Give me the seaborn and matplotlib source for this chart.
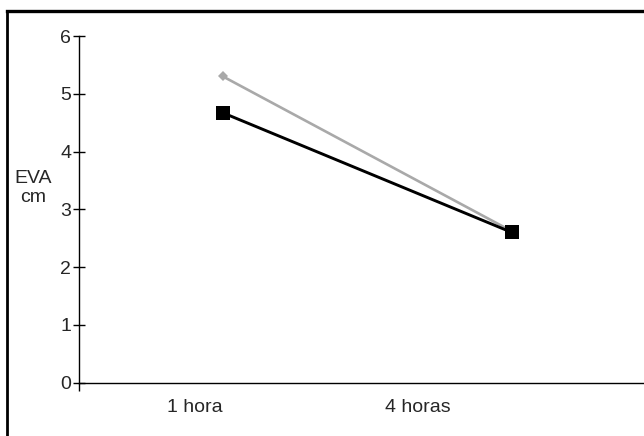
import numpy as np
import pandas as pd
import matplotlib
matplotlib.use("Agg")
import matplotlib.pyplot as plt
from matplotlib.lines import Line2D
import seaborn as sns

# ---- data ----
categories = ["1 hora", "4 horas"]
series_gray = [5.30, 2.62]
series_black = [4.67, 2.60]
y_ticks = [0, 1, 2, 3, 4, 5, 6]
y_label = "EVA\ncm"

sns.set_theme(style="white")
plt.rcParams['font.family'] = ['Liberation Sans', 'DejaVu Sans']

pos = np.arange(len(categories))
df = pd.DataFrame({
    "pos": np.concatenate([pos, pos]),
    "value": series_gray + series_black,
    "serie": ["gris"] * len(pos) + ["negro"] * len(pos),
})

fig = plt.figure(figsize=(6.44, 4.36), dpi=100)
ax = fig.add_axes([79 / 644, 53.3 / 436, 1 - 79 / 644, (400 - 53.3) / 436])

sns.lineplot(data=df[df.serie == "gris"], x="pos", y="value", ax=ax,
             color="#a9a9a9", lw=1.9, marker="D", markersize=5,
             markeredgewidth=0, zorder=2)
sns.lineplot(data=df[df.serie == "negro"], x="pos", y="value", ax=ax,
             color="black", lw=2.1, marker="s", markersize=9.8,
             markeredgewidth=0, zorder=3)

ax.set_ylim(0, 6)
x_left, x_right = -0.498, 1.457
ax.set_xlim(x_left, x_right)

for s in ["top", "right"]:
    ax.spines[s].set_visible(False)
for s in ["left", "bottom"]:
    ax.spines[s].set_color("black")
    ax.spines[s].set_linewidth(1.0)

ax.set_yticks(y_ticks)
ax.set_yticklabels([str(t) for t in y_ticks])
ax.tick_params(axis="y", direction="inout", length=9, width=1.0,
               color="black", labelsize=14, pad=1, left=True)

# x: one short tick at the origin (axis extension), labels on minor ticks
ax.set_xticks([x_left])
ax.set_xticklabels([""])
ax.tick_params(axis="x", which="major", direction="out", length=5.5,
               width=1.0, color="black", bottom=True)
label_pos = [-0.097, 0.674]
ax.set_xticks(label_pos, minor=True)
ax.set_xticklabels(categories, minor=True)
ax.tick_params(axis="x", which="minor", length=0, labelsize=14, pad=11.5,
               bottom=True)

ax.set_xlabel("")
ax.set_ylabel("")
if ax.get_legend() is not None:
    ax.get_legend().remove()

fig.text(33 / 644, 1 - 188 / 436, y_label, ha="center", va="center",
         fontsize=14, linespacing=1.2)

# frame (left and top edges visible)
fig.add_artist(Line2D([7 / 644, 7 / 644], [0, 1 - 11 / 436],
                      transform=fig.transFigure, color="black", lw=2.0,
                      solid_capstyle="projecting"))
fig.add_artist(Line2D([7 / 644, 1], [1 - 11 / 436, 1 - 11 / 436],
                      transform=fig.transFigure, color="black", lw=2.4,
                      solid_capstyle="projecting"))

fig.savefig("out.png", dpi=100)
